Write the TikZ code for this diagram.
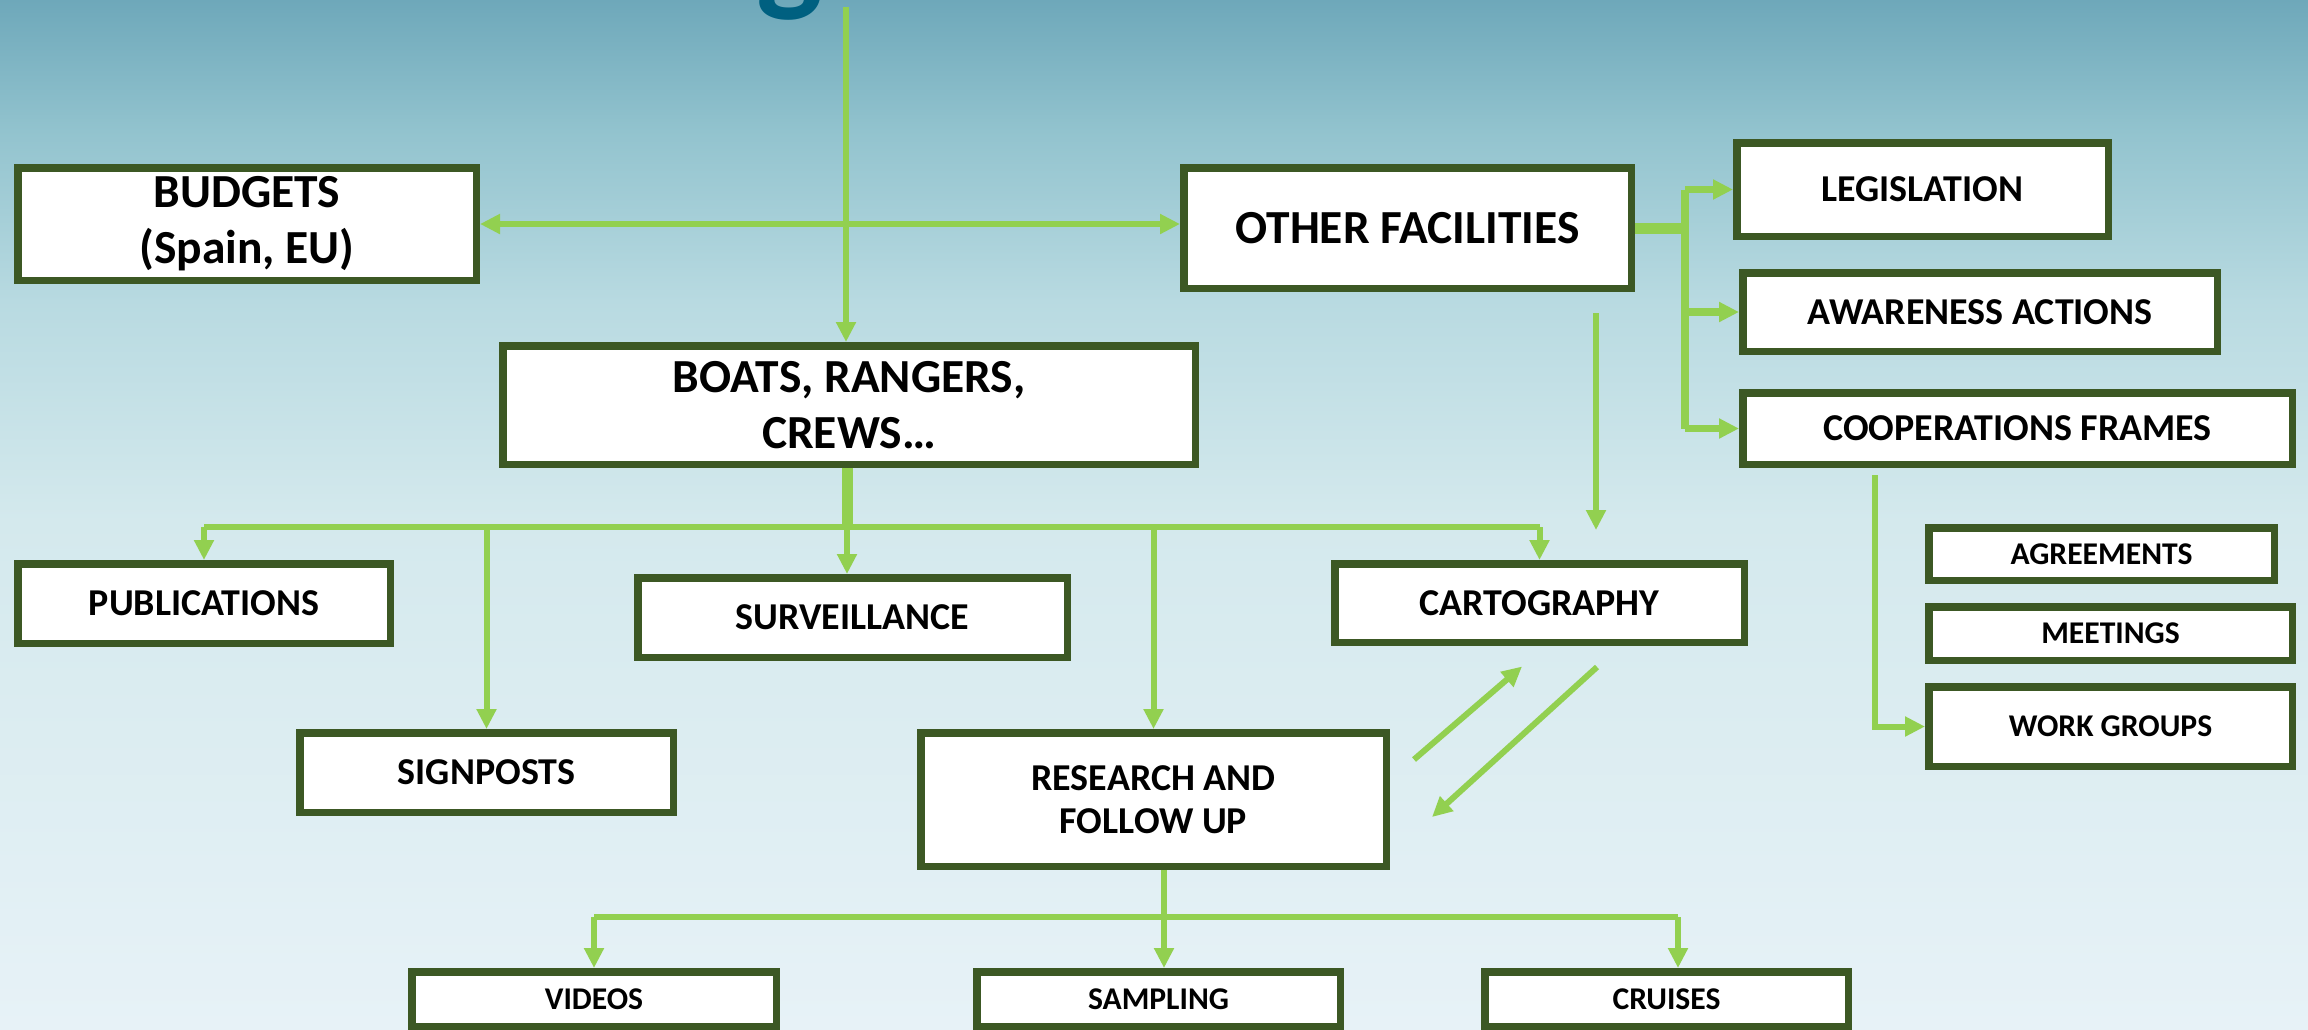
\documentclass[tikz,border=0pt]{standalone}
\usepackage{fontspec}
\setmainfont{Carlito}
\usetikzlibrary{arrows.meta,positioning,calc}
\definecolor{boxgreen}{RGB}{60,88,36}
\definecolor{linkgreen}{RGB}{146,208,80}
\definecolor{titleblue}{RGB}{0,96,128}
\definecolor{bgA}{RGB}{110,168,186}
\definecolor{bgB}{RGB}{146,195,206}
\definecolor{bgC}{RGB}{184,218,225}
\definecolor{bgD}{RGB}{212,233,237}
\definecolor{bgE}{RGB}{231,242,247}
\begin{document}
\begin{tikzpicture}[x=0.1mm, y=-0.1mm,
  box/.style={draw=boxgreen, line width=0.75mm, fill=white, inner sep=0pt, align=center},
  big/.style={font=\fontsize{13.5}{16}\selectfont\bfseries},
  mid/.style={font=\fontsize{10.8}{12.4}\selectfont\bfseries},
  small/.style={font=\fontsize{9}{11}\selectfont\bfseries},
  link/.style={draw=linkgreen, line width=0.6mm},
  thick link/.style={draw=linkgreen, line width=1.1mm},
  tip/.style={-{Triangle[width=1.9mm,length=2mm]}}]
\useasboundingbox (0,0) rectangle (2308,1029);
\shade[top color=bgA, bottom color=bgB] (0,0) rectangle (2308,131);
\shade[top color=bgB, bottom color=bgC] (0,130) rectangle (2308,301);
\shade[top color=bgC, bottom color=bgD] (0,300) rectangle (2308,521);
\shade[top color=bgD, bottom color=bgE] (0,520) rectangle (2308,1029);
\begin{scope}
\clip (0,0) rectangle (2308,1029);
\node(T) [anchor=base, inner sep=0pt, text=titleblue, font=\fontsize{40}{40}\selectfont\bfseries] at (790,-4) {g};
\end{scope}
\node(Bud) [box, big, minimum width=45.85mm, minimum height=11.25mm] at (247,224) {BUDGETS\\(Spain, EU)};
\node(Oth) [box, big, minimum width=44.75mm, minimum height=12.05mm] at (1407.5,228) {OTHER FACILITIES};
\node(Boat) [box, big, minimum width=69.25mm, minimum height=11.85mm] at (849,405) {BOATS, RANGERS,\\CREWS\dots};
\node(Leg) [box, mid, minimum width=37.15mm, minimum height=9.35mm] at (1922.5,189.5) {LEGISLATION};
\node(Awa) [box, mid, minimum width=47.45mm, minimum height=7.85mm] at (1980,312) {AWARENESS ACTIONS};
\node(Coop) [box, mid, minimum width=54.95mm, minimum height=7.15mm, below=3.4mm of Awa.south west, anchor=north west] {COOPERATIONS FRAMES};
\node(Pub) [box, mid, minimum width=37.25mm, minimum height=7.95mm] at (204,603.5) {PUBLICATIONS};
\node(Surv) [box, mid, minimum width=42.95mm, minimum height=7.95mm] at (852.5,617.5) {SURVEILLANCE};
\node(Cart) [box, mid, minimum width=40.95mm, minimum height=7.85mm] at (1539.5,603) {CARTOGRAPHY};
\node(Agr) [box, small, minimum width=34.55mm, minimum height=5.25mm] at (2101.5,554) {AGREEMENTS};
\node(Meet) [box, small, minimum width=36.35mm, minimum height=5.35mm, below=1.9mm of Agr.south west, anchor=north west] {MEETINGS};
\node(Work) [box, small, minimum width=36.35mm, minimum height=7.95mm, below=1.9mm of Meet.south west, anchor=north west] {WORK GROUPS};
\node(Sign) [box, mid, minimum width=37.35mm, minimum height=7.95mm] at (486.5,772.5) {SIGNPOSTS};
\node(Res) [box, mid, minimum width=46.55mm, minimum height=13.35mm] at (1153.5,799.5) {RESEARCH AND\\FOLLOW UP};
\node(Vid) [box, small, minimum width=36.45mm, minimum height=5.45mm] at (594,999) {VIDEOS};
\node(Samp) [box, small, minimum width=36.35mm, minimum height=5.45mm] at (1158.5,999) {SAMPLING};
\node(Cru) [box, small, minimum width=36.35mm, minimum height=5.45mm] at (1666.5,999) {CRUISES};
\coordinate(top) at (846,7);
\coordinate(bb) at (847,527);
\coordinate(ob) at (1685,228);
\coordinate(rb) at (1164,917);
\coordinate(rbe) at (1678,917);
\draw[link, tip](top) -- (top |- Boat.north);
\draw[link, {Triangle[width=1.9mm,length=2mm]}-{Triangle[width=1.9mm,length=2mm]}](Bud.east) -- (Bud.east -| Oth.west);
\draw[thick link](Boat.south -| bb) -- (bb);
\draw[link](bb -| Pub) -- (bb -| Cart);
\draw[link, tip](bb -| Pub) -- (Pub.north);
\draw[link, tip](bb -| Sign) -- (Sign.north);
\draw[link, tip](bb) -- (bb |- Surv.north);
\draw[link, tip](bb -| Res) -- (Res.north);
\draw[link, tip](bb -| Cart) -- (Cart.north);
\draw[link, tip]($(Oth.south)+(188.5,21)$) -- ($(Cart.north)+(56.5,-30)$);
\draw[thick link](Oth.east) -- (ob);
\draw[link, line width=0.75mm](ob |- Leg) -- (ob |- Coop);
\draw[link, line width=0.75mm, tip](ob |- Leg) -- (Leg.west);
\draw[link, line width=0.75mm, tip](ob |- Awa) -- (Awa.west);
\draw[link, line width=0.75mm, tip](ob |- Coop) -- (Coop.west);
\draw[link, tip]($(Coop.south)+(-142.5,7)$) |- (Work.west);
\draw[link, tip]($(Res.east)+(24,-40)$) -- ($(Cart.south)+(-17.5,20.5)$);
\draw[link, tip]($(Cart.south)+(57.5,21)$) -- ($(Res.east)+(42,17.5)$);
\draw[link](Res.south -| rb) -- (rb);
\draw[link](rb -| Vid) -- (rbe);
\draw[link, tip](rb -| Vid) -- (Vid.north);
\draw[link, tip](rb) -- (rb |- Samp.north);
\draw[link, tip](rbe) -- (rbe |- Cru.north);
\end{tikzpicture}
\end{document}
